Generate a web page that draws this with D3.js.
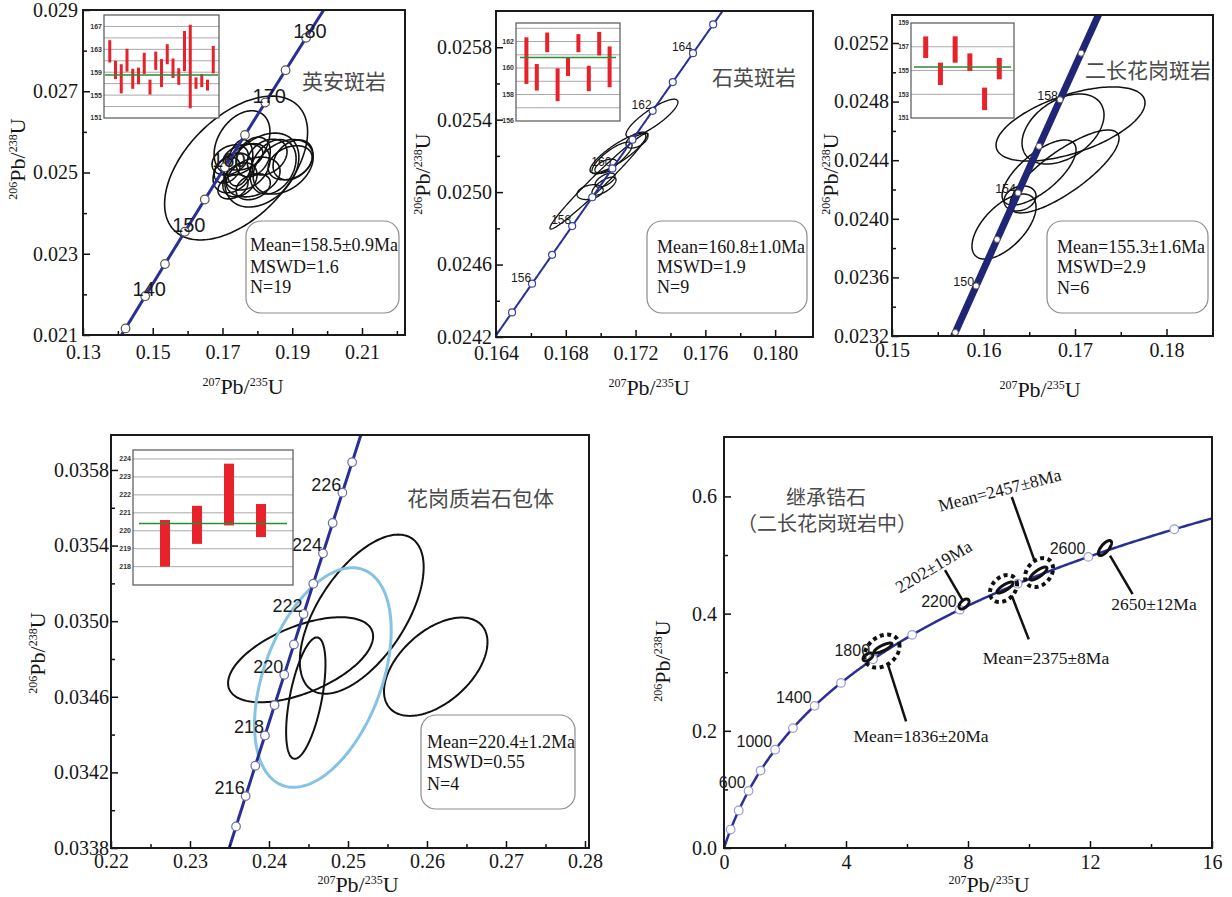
<!DOCTYPE html>
<html>
<head>
<meta charset="utf-8">
<script src="https://cdn.jsdelivr.net/npm/d3@7"></script>
<style>
  html, body { margin: 0; padding: 0; background: #fff; }
  svg { display: block; }
</style>
</head>
<body>
<svg id="fig" width="1232" height="897"></svg>
<script>
// U–Pb decay constants (per year); the concordia is exp(λt) − 1 for each system
const LAMBDA238 = 1.55125e-10;
const LAMBDA235 = 9.8485e-10;
const pb206u238 = ma => Math.expm1(LAMBDA238 * ma * 1e6);
const pb207u235 = ma => Math.expm1(LAMBDA235 * ma * 1e6);

// ================= 英安斑岩 =================
const daciteMarkerAges = [135, 140, 145, 150, 155, 160, 165, 170, 175, 180];
const daciteLabelAges = [140, 150, 160, 170, 180];
// rows: [207Pb/235U, ±, 206Pb/238U, ±, rho]
const daciteEllipses = [
  [0.1739, 0.0205, 0.02511, 0.00177, 0.50],
  [0.1756, 0.0080, 0.02573, 0.00079, 0.35],
  [0.1902, 0.0057, 0.02531, 0.00049, 0.30],
  [0.1894, 0.0063, 0.02524, 0.00042, 0.30],
  [0.1874, 0.0086, 0.02514, 0.00067, 0.35],
  [0.1813, 0.0106, 0.02506, 0.00091, 0.35],
  [0.1722, 0.0052, 0.02531, 0.00037, 0.30],
  [0.1730, 0.0057, 0.02499, 0.00049, 0.30],
  [0.1750, 0.0049, 0.02482, 0.00042, 0.30],
  [0.1770, 0.0066, 0.02514, 0.00057, 0.30],
  [0.1788, 0.0049, 0.02538, 0.00049, 0.30],
  [0.1730, 0.0043, 0.02465, 0.00030, 0.30],
  [0.1788, 0.0049, 0.02465, 0.00032, 0.30],
  [0.1828, 0.0057, 0.02538, 0.00044, 0.30],
  [0.1750, 0.0037, 0.02524, 0.00057, 0.30],
  [0.1713, 0.0037, 0.02506, 0.00032, 0.30],
  [0.1788, 0.0077, 0.02489, 0.00049, 0.30],
  [0.1845, 0.0066, 0.02514, 0.00067, 0.30],
  [0.1759, 0.0057, 0.02538, 0.00032, 0.30]
];
const daciteSpotAges = [162.65, 159.4, 157.85, 161.1, 157.85, 158.35, 160.55, 156.4, 161.0, 158.85,
                        162.15, 159.7, 158.25, 162.7, 160.0, 157.1, 157.55, 156.75, 161.2];
const daciteSpotErrs = [1.95, 1.6, 2.55, 2.0, 1.75, 1.45, 1.85, 1.3, 1.6, 2.45,
                        1.75, 1.7, 1.45, 3.5, 7.3, 1.0, 1.15, 0.95, 2.4];
const daciteMean = 158.5;
const daciteStats = ["Mean=158.5±0.9Ma", "MSWD=1.6", "N=19"];
const daciteXTicks = [0.13, 0.15, 0.17, 0.19, 0.21];
const daciteXLabels = ["0.13", "0.15", "0.17", "0.19", "0.21"];
const daciteXMinor = [0.14, 0.16, 0.18, 0.20, 0.22];
const daciteYTicks = [0.021, 0.023, 0.025, 0.027, 0.029];
const daciteYLabels = ["0.021", "0.023", "0.025", "0.027", "0.029"];
const daciteYMinor = [0.022, 0.024, 0.026, 0.028];
const daciteInsetTicks = [151, 155, 159, 163, 167];
const daciteInsetGrid = [153, 155, 157, 159, 161, 163, 165, 167];

// ================= 石英斑岩 =================
const quartzMarkerAges = [155, 156, 157, 158, 159, 160, 161, 162, 163, 164, 165];
const quartzLabelAges = [156, 158, 160, 162, 164];
const quartzEllipses = [
  [0.16990, 0.00281, 0.025061, 0.000265, 0.98],
  [0.17294, 0.00149, 0.025408, 0.000105, 0.85],
  [0.17099, 0.00160, 0.025215, 0.000110, 0.85],
  [0.17065, 0.00115, 0.025188, 0.000088, 0.80],
  [0.17208, 0.00063, 0.025287, 0.000044, 0.50],
  [0.16939, 0.00075, 0.025000, 0.000041, 0.30],
  [0.17019, 0.00069, 0.025033, 0.000050, 0.70],
  [0.17025, 0.00057, 0.025066, 0.000039, 0.60],
  [0.17030, 0.00063, 0.025143, 0.000039, 0.50]
];
const quartzSpotAges = [160.56, 159.3, 161.94, 158.74, 160.08, 161.88, 159.21, 161.84, 160.09];
const quartzSpotErrs = [1.76, 1.0, 0.74, 1.24, 0.68, 0.68, 0.96, 0.89, 1.54];
const quartzMean = 160.8;
const quartzStats = ["Mean=160.8±1.0Ma", "MSWD=1.9", "N=9"];
const quartzXTicks = [0.164, 0.168, 0.172, 0.176, 0.180];
const quartzXLabels = ["0.164", "0.168", "0.172", "0.176", "0.180"];
const quartzXMinor = [0.166, 0.170, 0.174, 0.178];
const quartzYTicks = [0.0242, 0.0246, 0.0250, 0.0254, 0.0258];
const quartzYLabels = ["0.0242", "0.0246", "0.0250", "0.0254", "0.0258"];
const quartzYMinor = [0.0244, 0.0248, 0.0252, 0.0256];
const quartzInsetTicks = [156, 158, 160, 162];
const quartzInsetGrid = [157, 158, 159, 160, 161, 162, 163];

// ================= 二长花岗斑岩 =================
const monzoMarkerAges = [148, 150, 152, 154, 156, 158, 160];
const monzoLabelAges = [150, 154, 158];
const monzoEllipses = [
  [0.16951, 0.00814, 0.024647, 0.000253, 0.57],
  [0.16869, 0.00448, 0.024613, 0.000239, 0.40],
  [0.16885, 0.00596, 0.024323, 0.000283, 0.80],
  [0.16607, 0.00404, 0.024316, 0.000222, 0.70],
  [0.16399, 0.00175, 0.024139, 0.0000853, 0.20],
  [0.16224, 0.00350, 0.023947, 0.000222, 0.60]
];
const monzoSpotAges = [156.96, 154.72, 156.77, 155.70, 152.61, 155.16];
const monzoSpotErrs = [0.91, 0.94, 1.11, 0.74, 0.95, 0.90];
const monzoMean = 155.3;
const monzoStats = ["Mean=155.3±1.6Ma", "MSWD=2.9", "N=6"];
const monzoXTicks = [0.15, 0.16, 0.17, 0.18];
const monzoXLabels = ["0.15", "0.16", "0.17", "0.18"];
const monzoXMinor = [0.155, 0.165, 0.175];
const monzoYTicks = [0.0232, 0.0236, 0.0240, 0.0244, 0.0248, 0.0252];
const monzoYLabels = ["0.0232", "0.0236", "0.0240", "0.0244", "0.0248", "0.0252"];
const monzoYMinor = [0.0234, 0.0238, 0.0242, 0.0246, 0.0250];
const monzoInsetTicks = [151, 153, 155, 157, 159];
const monzoInsetGrid = [153, 155, 157];

// ================= 花岗质岩石包体 =================
const enclaveMarkerAges = [215, 216, 217, 218, 219, 220, 221, 222, 223, 224, 225, 226, 227];
const enclaveLabelAges = [216, 218, 220, 222, 224, 226];
const enclaveEllipses = [
  [0.25174, 0.00784, 0.035037, 0.000421, 0.59],
  [0.24400, 0.00918, 0.034796, 0.000225, 0.55],
  [0.24466, 0.00249, 0.034593, 0.000321, 0.56],
  [0.26111, 0.00655, 0.034759, 0.000260, 0.50]
];
const enclaveMeanEllipse = [0.24682, 0.00865, 0.034702, 0.000581, 0.43];
const enclaveSpotAges = [219.3, 220.33, 222.02, 220.57];
const enclaveSpotErrs = [1.3, 1.06, 1.72, 0.92];
const enclaveMean = 220.4;
const enclaveStats = ["Mean=220.4±1.2Ma", "MSWD=0.55", "N=4"];
const enclaveXTicks = [0.22, 0.23, 0.24, 0.25, 0.26, 0.27, 0.28];
const enclaveXLabels = ["0.22", "0.23", "0.24", "0.25", "0.26", "0.27", "0.28"];
const enclaveXMinor = [0.225, 0.235, 0.245, 0.255, 0.265, 0.275];
const enclaveYTicks = [0.0338, 0.0342, 0.0346, 0.0350, 0.0354, 0.0358];
const enclaveYLabels = ["0.0338", "0.0342", "0.0346", "0.0350", "0.0354", "0.0358"];
const enclaveYMinor = [0.0340, 0.0344, 0.0348, 0.0352, 0.0356];
const enclaveInsetTicks = [218, 219, 220, 221, 222, 223, 224];
const enclaveInsetGrid = [218, 219, 220, 221, 222, 223, 224];

// ================= 继承锆石 =================
const inheritedMarkerAges = [200, 400, 600, 800, 1000, 1200, 1400, 1600, 1800, 2000, 2200, 2400, 2600, 2800];
const inheritedLabelAges = [600, 1000, 1400, 1800, 2200, 2600];
const inheritedEllipses = [
  [5.213, 0.295, 0.3413, 0.0085, 0.8],
  [4.72, 0.16, 0.326, 0.0068, 0.5],
  [9.213, 0.262, 0.4445, 0.0094, 0.8],
  [10.31, 0.279, 0.4684, 0.0111, 0.8],
  [7.87, 0.164, 0.4164, 0.0085, 0.5],
  [12.49, 0.216, 0.5119, 0.0128, 0.7]
];
const inheritedMeanEllipses = [
  [5.18, 0.574, 0.336, 0.0282, 0.3],
  [9.164, 0.443, 0.4428, 0.0230, 0.3],
  [10.33, 0.459, 0.4700, 0.0247, 0.3]
];
// leader lines [x1, y1, x2, y2] in ratio units, and their captions
const inheritedLeaders = [
  [5.354, 0.3162, 5.970, 0.2160],
  [9.436, 0.4304, 9.993, 0.3561],
  [9.436, 0.5990, 10.180, 0.4904],
  [7.246, 0.4744, 7.846, 0.4203],
  [12.656, 0.4990, 13.397, 0.4334]
];
const inheritedCaptions = ["Mean=1836±20Ma", "Mean=2375±8Ma", "Mean=2457±8Ma", "2202±19Ma", "2650±12Ma"];
const inheritedCaptionAt = [[6.459, 0.1911], [10.557, 0.3247], [9.036, 0.6109], [6.869, 0.4804], [14.098, 0.4164]];
const inheritedCaptionAngle = [0, 0, -14.5, -30.9, 0];
const inheritedXTicks = [0, 4, 8, 12, 16];
const inheritedXLabels = ["0", "4", "8", "12", "16"];
const inheritedXMinor = [2, 6, 10, 14];
const inheritedYTicks = [0, 0.2, 0.4, 0.6];
const inheritedYLabels = ["0.0", "0.2", "0.4", "0.6"];
const inheritedYMinor = [0.1, 0.3, 0.5];

// ---------------------------------------------------------------
const svg = d3.select("#fig");
const defs = svg.append("defs");
const SERIF = "'Liberation Serif', 'Times New Roman', serif";
const SANS = "'Liberation Sans', Arial, sans-serif";
const CJK = "'Noto Sans CJK SC', sans-serif";
const NAVY = "#2a2f96";

function makePanel(L) {
  const x = d3.scaleLinear().domain(L.xDom).range([L.left, L.right]);
  const y = d3.scaleLinear().domain(L.yDom).range([L.bottom, L.top]);
  const g = svg.append("g");
  const clipId = "clip-" + L.id;
  defs.append("clipPath").attr("id", clipId).append("rect")
    .attr("x", L.left).attr("y", L.top)
    .attr("width", L.right - L.left).attr("height", L.bottom - L.top);
  const plot = g.append("g").attr("clip-path", `url(#${clipId})`);
  return { x, y, g, plot, L };
}

function drawAxes(P, A) {
  const { x, y, g, L } = P;
  const style = sel => {
    sel.select(".domain").remove();
    sel.selectAll(".tick line").attr("stroke", "#111").attr("stroke-width", 1.5);
    sel.selectAll(".tick text").attr("fill", "#151515")
      .attr("font-family", SERIF).attr("font-size", 20);
  };
  g.append("g").attr("transform", `translate(0,${L.bottom})`)
    .call(d3.axisBottom(x).tickValues(A.xTicks).tickFormat((d, i) => A.xLabels[i])
      .tickSize(-7).tickPadding(L.xPad)).call(style);
  g.append("g").attr("transform", `translate(0,${L.bottom})`)
    .call(d3.axisBottom(x).tickValues(A.xMinor).tickFormat(() => "").tickSize(-4)).call(style);
  g.append("g").attr("transform", `translate(${L.left},0)`)
    .call(d3.axisLeft(y).tickValues(A.yTicks).tickFormat((d, i) => A.yLabels[i])
      .tickSize(-7).tickPadding(L.yPad)).call(style);
  g.append("g").attr("transform", `translate(${L.left},0)`)
    .call(d3.axisLeft(y).tickValues(A.yMinor).tickFormat(() => "").tickSize(-4)).call(style);
}

function drawFrame(P) {
  const L = P.L;
  P.g.append("rect").attr("x", L.left).attr("y", L.top)
    .attr("width", L.right - L.left).attr("height", L.bottom - L.top)
    .attr("fill", "none").attr("stroke", "#1a1a1a").attr("stroke-width", 2);
}

function ratioTitle(g, cx, cy, sup1, sup2, rotate) {
  const t = g.append("text").attr("font-family", SERIF).attr("fill", "#151515")
    .attr("text-anchor", "middle");
  if (rotate) t.attr("transform", `translate(${cx},${cy}) rotate(-90)`).attr("x", 0).attr("y", 7);
  else t.attr("x", cx).attr("y", cy);
  t.append("tspan").attr("font-size", 12).attr("dy", -8).text(sup1);
  t.append("tspan").attr("font-size", 22).attr("dy", 8).text("Pb/");
  t.append("tspan").attr("font-size", 12).attr("dy", -8).text(sup2);
  t.append("tspan").attr("font-size", 22).attr("dy", 8).text("U");
}

function ellipsePath(e, x, y) {
  const [cx, sx, cy, sy, rho] = e;
  const k = Math.sqrt(1 - rho * rho);
  const pts = d3.range(0, 360, 2).map(a => {
    const t = a * Math.PI / 180;
    return [x(cx + sx * Math.cos(t)), y(cy + sy * (rho * Math.cos(t) + k * Math.sin(t)))];
  });
  return d3.line().curve(d3.curveLinearClosed)(pts);
}

function drawEllipses(P, rows, stroke, width, dash) {
  P.plot.append("g").selectAll("path").data(rows).join("path")
    .attr("d", d => ellipsePath(d, P.x, P.y))
    .attr("fill", "none").attr("stroke", stroke).attr("stroke-width", width)
    .attr("stroke-dasharray", dash || null);
}

function drawConcordia(P, tRange, markerAges, labelAges, S) {
  const ts = d3.range(tRange[0], tRange[1], (tRange[1] - tRange[0]) / 600).concat([tRange[1]]);
  const line = d3.line().x(t => P.x(pb207u235(t))).y(t => P.y(pb206u238(t)));
  P.plot.append("path").attr("d", line(ts)).attr("fill", "none")
    .attr("stroke", S.lineColor).attr("stroke-width", S.lineWidth);
  P.plot.append("g").selectAll("circle").data(markerAges).join("circle")
    .attr("cx", t => P.x(pb207u235(t))).attr("cy", t => P.y(pb206u238(t)))
    .attr("r", S.r).attr("fill", "#fff").attr("stroke", S.markerStroke).attr("stroke-width", S.markerWidth);
  P.g.append("g").selectAll("text").data(labelAges).join("text")
    .attr("x", t => P.x(pb207u235(t)) + S.dx).attr("y", t => P.y(pb206u238(t)) + S.dy)
    .attr("text-anchor", S.anchor).attr("font-family", SANS).attr("font-size", S.fontSize)
    .attr("fill", "#1a1a1a").text(t => t);
}

function drawInset(I, ages, errs, mean, tickVals, gridVals) {
  const g = svg.append("g");
  const y = d3.scaleLinear().domain(I.yDom).range([I.bottom, I.top]);
  const n = ages.length;
  const xc = i => I.left + (i + 1) * (I.right - I.left) / (n + 1);
  g.append("rect").attr("x", I.left).attr("y", I.top).attr("width", I.right - I.left)
    .attr("height", I.bottom - I.top).attr("fill", "#fff");
  g.selectAll("line.grid").data(gridVals).join("line").attr("class", "grid")
    .attr("x1", I.left).attr("x2", I.right).attr("y1", d => y(d)).attr("y2", d => y(d))
    .attr("stroke", "#a8a8a8").attr("stroke-width", 1);
  g.selectAll("rect.bar").data(ages).join("rect").attr("class", "bar")
    .attr("x", (d, i) => xc(i) - I.barW / 2).attr("width", I.barW)
    .attr("y", (d, i) => y(d + errs[i])).attr("height", (d, i) => y(d - errs[i]) - y(d + errs[i]))
    .attr("fill", "#e8222a");
  g.append("line").attr("x1", I.left + I.meanPad).attr("x2", I.right - I.meanPad)
    .attr("y1", y(mean)).attr("y2", y(mean)).attr("stroke", "#2f8a35").attr("stroke-width", 1.5);
  g.append("rect").attr("x", I.left).attr("y", I.top).attr("width", I.right - I.left)
    .attr("height", I.bottom - I.top).attr("fill", "none").attr("stroke", "#555").attr("stroke-width", 1.2);
  g.selectAll("text").data(tickVals).join("text")
    .attr("x", I.left - 2).attr("y", d => y(d)).attr("dy", "0.35em").attr("text-anchor", "end")
    .attr("font-family", SANS).attr("font-weight", "bold").attr("font-size", I.fontSize)
    .attr("fill", "#333").text(d => d);
}

function drawStatsBox(B, lines) {
  const g = svg.append("g");
  g.append("rect").attr("x", B.x).attr("y", B.y).attr("width", B.w).attr("height", B.h)
    .attr("rx", 15).attr("ry", 15).attr("fill", "none").attr("stroke", "#8c8c8c").attr("stroke-width", 1.2);
  g.selectAll("text").data(lines).join("text")
    .attr("x", B.tx).attr("y", (d, i) => B.ty[i]).attr("dy", "0.35em")
    .attr("font-family", SERIF).attr("font-size", 18).attr("fill", "#151515").text(d => d);
}

function cjkTitle(x, y, text, anchor, size) {
  svg.append("text").attr("x", x).attr("y", y).attr("text-anchor", anchor || "start")
    .attr("font-family", CJK).attr("font-size", size || 21).attr("fill", "#4a4a4a").text(text);
}

// ---------------- panel 1: 英安斑岩 ----------------
{
  const P = makePanel({ id: "dacite", left: 83, right: 405, top: 10, bottom: 335,
    xDom: [0.13, 0.22233], yDom: [0.021, 0.029], xPad: 10, yPad: 5 });
  drawEllipses(P, daciteEllipses, "#111", 1.6);
  drawConcordia(P, [120, 200], daciteMarkerAges, daciteLabelAges,
    { lineColor: NAVY, lineWidth: 3, r: 4.3, markerStroke: "#555", markerWidth: 1.2,
      dx: 4, dy: 0, anchor: "middle", fontSize: 20 });
  drawAxes(P, { xTicks: daciteXTicks, xLabels: daciteXLabels, xMinor: daciteXMinor,
    yTicks: daciteYTicks, yLabels: daciteYLabels, yMinor: daciteYMinor });
  drawFrame(P);
  ratioTitle(svg, 243, 394, "207", "235", false);
  ratioTitle(svg, 18, 159, "206", "238", true);
  drawInset({ left: 104, right: 219, top: 15, bottom: 118, yDom: [151, 169], barW: 3,
    meanPad: 1, fontSize: 7 }, daciteSpotAges, daciteSpotErrs, daciteMean, daciteInsetTicks, daciteInsetGrid);
  drawStatsBox({ x: 246, y: 221, w: 153, h: 92, tx: 250, ty: [245, 267, 287] }, daciteStats);
  cjkTitle(302, 89, "英安斑岩");
}

// ---------------- panel 2: 石英斑岩 ----------------
{
  const P = makePanel({ id: "quartz", left: 496, right: 813, top: 11, bottom: 337,
    xDom: [0.164, 0.18217], yDom: [0.0242, 0.0260], xPad: 9, yPad: 4 });
  drawEllipses(P, quartzEllipses, "#111", 1.3);
  drawConcordia(P, [150, 170], quartzMarkerAges, quartzLabelAges,
    { lineColor: NAVY, lineWidth: 2, r: 3.5, markerStroke: "#3b44a6", markerWidth: 1.2,
      dx: -1, dy: -2, anchor: "end", fontSize: 12 });
  drawAxes(P, { xTicks: quartzXTicks, xLabels: quartzXLabels, xMinor: quartzXMinor,
    yTicks: quartzYTicks, yLabels: quartzYLabels, yMinor: quartzYMinor });
  drawFrame(P);
  ratioTitle(svg, 649, 395, "207", "235", false);
  ratioTitle(svg, 423, 174, "206", "238", true);
  drawInset({ left: 516, right: 620, top: 23, bottom: 121, yDom: [156, 163.4], barW: 4,
    meanPad: 4, fontSize: 7 }, quartzSpotAges, quartzSpotErrs, quartzMean, quartzInsetTicks, quartzInsetGrid);
  drawStatsBox({ x: 647, y: 221, w: 160, h: 92, tx: 657, ty: [247, 267, 287] }, quartzStats);
  cjkTitle(712, 85, "石英斑岩");
}

// ---------------- panel 3: 二长花岗斑岩 ----------------
{
  const P = makePanel({ id: "monzo", left: 892, right: 1213, top: 15, bottom: 336,
    xDom: [0.15, 0.18508], yDom: [0.0232, 0.025391], xPad: 7, yPad: 3 });
  drawEllipses(P, monzoEllipses, "#111", 1.5);
  drawConcordia(P, [140, 170], monzoMarkerAges, monzoLabelAges,
    { lineColor: "#202575", lineWidth: 7, r: 3, markerStroke: "#666", markerWidth: 1,
      dx: -2, dy: 0, anchor: "end", fontSize: 12.5 });
  drawAxes(P, { xTicks: monzoXTicks, xLabels: monzoXLabels, xMinor: monzoXMinor,
    yTicks: monzoYTicks, yLabels: monzoYLabels, yMinor: monzoYMinor });
  drawFrame(P);
  ratioTitle(svg, 1040, 397, "207", "235", false);
  ratioTitle(svg, 831, 174, "206", "238", true);
  drawInset({ left: 911, right: 1014, top: 23, bottom: 118, yDom: [151, 159], barW: 5,
    meanPad: 3, fontSize: 6.5 }, monzoSpotAges, monzoSpotErrs, monzoMean, monzoInsetTicks, monzoInsetGrid);
  drawStatsBox({ x: 1047, y: 221, w: 161, h: 92, tx: 1057, ty: [247, 267, 288] }, monzoStats);
  cjkTitle(1085, 78, "二长花岗斑岩");
}

// ---------------- panel 4: 花岗质岩石包体 ----------------
{
  const P = makePanel({ id: "enclave", left: 111, right: 589, top: 435, bottom: 848,
    xDom: [0.22, 0.28051], yDom: [0.0338, 0.035985], xPad: 6, yPad: 2 });
  drawEllipses(P, enclaveEllipses, "#111", 2);
  drawEllipses(P, [enclaveMeanEllipse], "#86c3e3", 3);
  drawConcordia(P, [205, 235], enclaveMarkerAges, enclaveLabelAges,
    { lineColor: NAVY, lineWidth: 3, r: 4.3, markerStroke: "#6a70a8", markerWidth: 1.2,
      dx: -1, dy: -2, anchor: "end", fontSize: 18 });
  drawAxes(P, { xTicks: enclaveXTicks, xLabels: enclaveXLabels, xMinor: enclaveXMinor,
    yTicks: enclaveYTicks, yLabels: enclaveYLabels, yMinor: enclaveYMinor });
  drawFrame(P);
  ratioTitle(svg, 358, 892, "207", "235", false);
  ratioTitle(svg, 38, 653, "206", "238", true);
  drawInset({ left: 133, right: 293, top: 450, bottom: 585, yDom: [216.98, 224.5], barW: 10,
    meanPad: 6, fontSize: 7 }, enclaveSpotAges, enclaveSpotErrs, enclaveMean, enclaveInsetTicks, enclaveInsetGrid);
  drawStatsBox({ x: 421, y: 715, w: 154, h: 94, tx: 427, ty: [742, 762, 784] }, enclaveStats);
  cjkTitle(407, 506, "花岗质岩石包体");
}

// ---------------- panel 5: 继承锆石 ----------------
{
  const P = makePanel({ id: "inherited", left: 724, right: 1212, top: 437, bottom: 848,
    xDom: [0, 16], yDom: [0, 0.7014], xPad: 7, yPad: 7 });
  drawConcordia(P, [0, 3000], inheritedMarkerAges, inheritedLabelAges,
    { lineColor: NAVY, lineWidth: 2.5, r: 4.3, markerStroke: "#9a9ad6", markerWidth: 1.2,
      dx: -3, dy: -3, anchor: "end", fontSize: 16 });
  drawEllipses(P, inheritedEllipses, "#111", 3);
  drawEllipses(P, inheritedMeanEllipses, "#111", 4, "4,3.5");
  drawAxes(P, { xTicks: inheritedXTicks, xLabels: inheritedXLabels, xMinor: inheritedXMinor,
    yTicks: inheritedYTicks, yLabels: inheritedYLabels, yMinor: inheritedYMinor });
  drawFrame(P);
  ratioTitle(svg, 989, 892, "207", "235", false);
  ratioTitle(svg, 663, 661, "206", "238", true);

  P.g.append("g").selectAll("line").data(inheritedLeaders).join("line")
    .attr("x1", d => P.x(d[0])).attr("y1", d => P.y(d[1]))
    .attr("x2", d => P.x(d[2])).attr("y2", d => P.y(d[3]))
    .attr("stroke", "#111").attr("stroke-width", 2.5);
  P.g.append("g").selectAll("text").data(inheritedCaptions).join("text")
    .attr("transform", (d, i) => {
      const [cx, cy] = inheritedCaptionAt[i];
      return `translate(${P.x(cx)},${P.y(cy)}) rotate(${inheritedCaptionAngle[i]})`;
    })
    .attr("text-anchor", "middle").attr("dy", "0.35em")
    .attr("font-family", SERIF).attr("font-size", 17.5).attr("fill", "#151515").text(d => d);

  cjkTitle(826, 505, "继承锆石", "middle", 20);
  cjkTitle(827, 531, "（二长花岗斑岩中）", "middle", 20);
}
</script>
</body>
</html>
